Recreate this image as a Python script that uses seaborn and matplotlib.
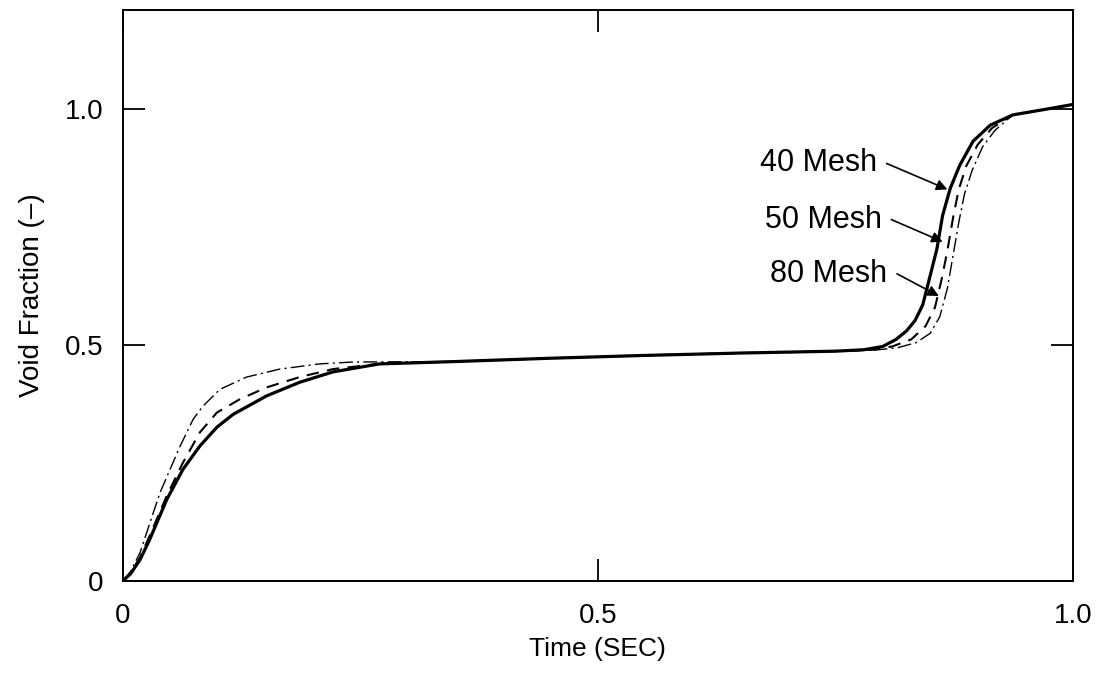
import numpy as np
import pandas as pd
import matplotlib
matplotlib.use("Agg")
import matplotlib.pyplot as plt
import seaborn as sns

t_40 = [0.0, 0.008, 0.018, 0.028, 0.046, 0.063, 0.081, 0.099, 0.116, 0.151, 0.186, 0.221, 0.27,
        0.35, 0.45, 0.55, 0.65, 0.75, 0.78, 0.80, 0.814, 0.825, 0.834, 0.842, 0.849, 0.857, 0.863,
        0.871, 0.881, 0.895, 0.913, 0.937, 0.972, 1.0]
vf_40 = [0.0, 0.015, 0.045, 0.087, 0.172, 0.236, 0.286, 0.326, 0.353, 0.392, 0.421, 0.443, 0.46,
         0.465, 0.472, 0.478, 0.483, 0.487, 0.490, 0.497, 0.512, 0.530, 0.552, 0.585, 0.640, 0.704,
         0.775, 0.832, 0.881, 0.932, 0.966, 0.988, 1.0, 1.01]

t_50 = [0.0, 0.008, 0.018, 0.028, 0.046, 0.063, 0.081, 0.099, 0.123, 0.151, 0.186, 0.221, 0.27,
        0.35, 0.45, 0.55, 0.65, 0.75, 0.79, 0.81, 0.83, 0.845, 0.855, 0.862, 0.868, 0.874, 0.88,
        0.888, 0.90, 0.915, 0.937]
vf_50 = [0.0, 0.017, 0.05, 0.095, 0.18, 0.25, 0.315, 0.357, 0.385, 0.41, 0.432, 0.449, 0.46,
         0.465, 0.472, 0.478, 0.483, 0.487, 0.490, 0.497, 0.512, 0.540, 0.58, 0.64, 0.70, 0.77, 0.83,
         0.88, 0.925, 0.96, 0.988]

t_80 = [0.0, 0.008, 0.018, 0.032, 0.039, 0.06, 0.074, 0.084, 0.102, 0.130, 0.165, 0.207, 0.242,
        0.35, 0.45, 0.55, 0.65, 0.75, 0.79, 0.815, 0.835, 0.85, 0.86, 0.868, 0.874, 0.88, 0.886,
        0.894, 0.905, 0.918, 0.937]
vf_80 = [0.0, 0.02, 0.06, 0.145, 0.187, 0.285, 0.343, 0.37, 0.406, 0.432, 0.449, 0.46, 0.464,
         0.465, 0.472, 0.478, 0.483, 0.487, 0.489, 0.494, 0.505, 0.525, 0.56, 0.62, 0.69, 0.76, 0.82,
         0.87, 0.92, 0.955, 0.988]

mesh_labels = ["40 Mesh", "50 Mesh", "80 Mesh"]
label_xy = [(0.804, 0.885), (0.809, 0.766), (0.815, 0.651)]
arrow_tip = [(0.868, 0.830), (0.863, 0.719), (0.859, 0.604)]

sns.set_style("ticks")
plt.rcParams['font.family'] = ['Liberation Sans', 'DejaVu Sans']
plt.rcParams['text.color'] = 'black'
plt.rcParams['axes.labelcolor'] = 'black'
plt.rcParams['xtick.color'] = 'black'
plt.rcParams['ytick.color'] = 'black'

fig = plt.figure(figsize=(10.98, 6.77), dpi=100)
ax = fig.add_axes([0.112, 0.142, 0.865, 0.843])

sns.lineplot(x=t_40, y=vf_40, ax=ax, color="black", linewidth=2.3, sort=False, estimator=None)
sns.lineplot(x=t_50, y=vf_50, ax=ax, color="black", linewidth=1.5, sort=False, estimator=None)
ax.lines[-1].set_dashes((6, 4))
sns.lineplot(x=t_80, y=vf_80, ax=ax, color="black", linewidth=1.0, sort=False, estimator=None)
ax.lines[-1].set_dashes((10, 3, 1.5, 3))

for lab, (tx, ty), (hx, hy) in zip(mesh_labels, label_xy, arrow_tip):
    ax.text(tx - 0.01, ty, lab, ha="right", va="center", fontsize=22)
    ax.annotate("", xy=(hx, hy), xytext=(tx, ty),
                arrowprops=dict(arrowstyle="-|>", color="black", lw=1.2,
                                mutation_scale=16, shrinkA=0, shrinkB=0))

ax.set_xlim(0, 1.0)
ax.set_ylim(0, 1.21)
ax.set_xticks([0, 0.5, 1.0])
ax.set_xticklabels(["0", "0.5", "1.0"])
ax.set_yticks([0, 0.5, 1.0])
ax.set_yticklabels(["0", "0.5", "1.0"])
ax.tick_params(direction="in", length=16, width=1.3, labelsize=20, top=True, right=True)
ax.tick_params(axis="x", pad=16)
ax.tick_params(axis="y", pad=14)
for s in ax.spines.values():
    s.set_linewidth(1.4)
    s.set_color("black")

ax.set_xlabel("Time (SEC)", fontsize=19, labelpad=6)
ax.set_ylabel("Void Fraction (–)", fontsize=20, labelpad=14)

fig.savefig("out.png", dpi=100)
